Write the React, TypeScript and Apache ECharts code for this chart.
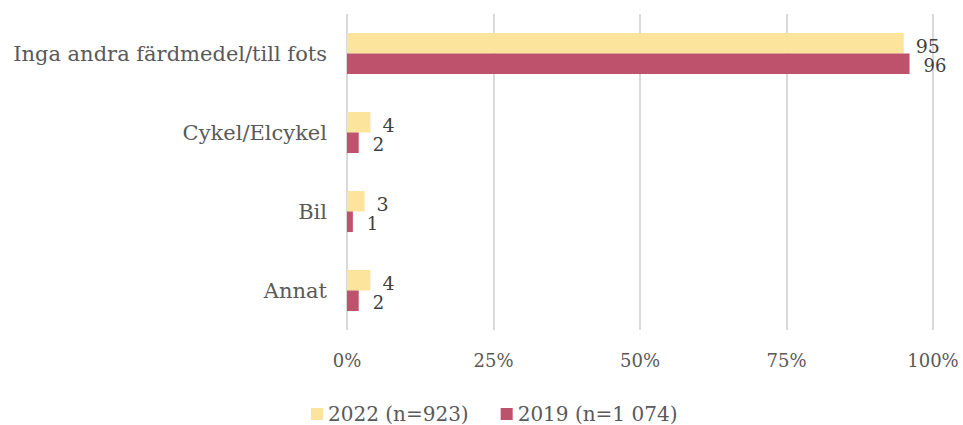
import React, { useEffect, useRef } from "react";
import * as echarts from "echarts";

const categories = ["Inga andra färdmedel/till fots", "Cykel/Elcykel", "Bil", "Annat"];
const series2022 = [95, 4, 3, 4];
const series2019 = [96, 2, 1, 2];
const seriesNames = ["2022 (n=923)", "2019 (n=1 074)"];
const xTicks = [0, 25, 50, 75, 100];

const FONT = "'DejaVu Serif', 'Liberation Serif', serif";

export default function App() {
  const ref = useRef<HTMLDivElement>(null);
  useEffect(() => {
    if (!ref.current) return;
    const chart = echarts.init(ref.current, undefined, { renderer: "svg" });
    chart.setOption({
      animation: false,
      textStyle: { fontFamily: FONT },
      grid: { left: 347, right: 30, top: 14, bottom: 95, containLabel: false },
      legend: {
        data: seriesNames,
        top: 399,
        left: 306,
        itemWidth: 12,
        itemHeight: 12,
        itemGap: 32,
        icon: "rect",
        textStyle: { fontFamily: FONT, fontSize: 20, color: "#595959" },
      },
      xAxis: {
        type: "value",
        min: 0,
        max: 100,
        interval: 25,
        axisLine: { show: false },
        axisTick: { show: false },
        splitLine: { show: true, lineStyle: { color: "#d9d9d9", width: 2 } },
        axisLabel: {
          formatter: (v: number) => (xTicks.includes(v) ? v + "%" : ""),
          fontFamily: FONT,
          fontSize: 18,
          color: "#595959",
          margin: 21,
        },
      },
      yAxis: {
        type: "category",
        data: categories,
        inverse: true,
        axisLine: { show: false },
        axisTick: { show: false },
        axisLabel: { fontFamily: FONT, fontSize: 21, color: "#595959", margin: 20 },
      },
      series: [
        {
          name: seriesNames[0],
          type: "bar",
          data: series2022,
          barGap: "0%",
          barCategoryGap: "48%",
          itemStyle: { color: "#FCE49C" },
          label: {
            show: true,
            position: "right",
            distance: 12,
            offset: [0, 3],
            fontFamily: FONT,
            fontSize: 19,
            color: "#404040",
          },
        },
        {
          name: seriesNames[1],
          type: "bar",
          data: series2019,
          barGap: "0%",
          barCategoryGap: "48%",
          itemStyle: { color: "#BE526C" },
          label: {
            show: true,
            position: "right",
            distance: 14,
            offset: [0, 2],
            fontFamily: FONT,
            fontSize: 18,
            color: "#404040",
          },
        },
      ],
    });
    return () => chart.dispose();
  }, []);
  return <div ref={ref} style={{ width: 963, height: 425, position: "absolute", left: 0, top: 0 }} />;
}
